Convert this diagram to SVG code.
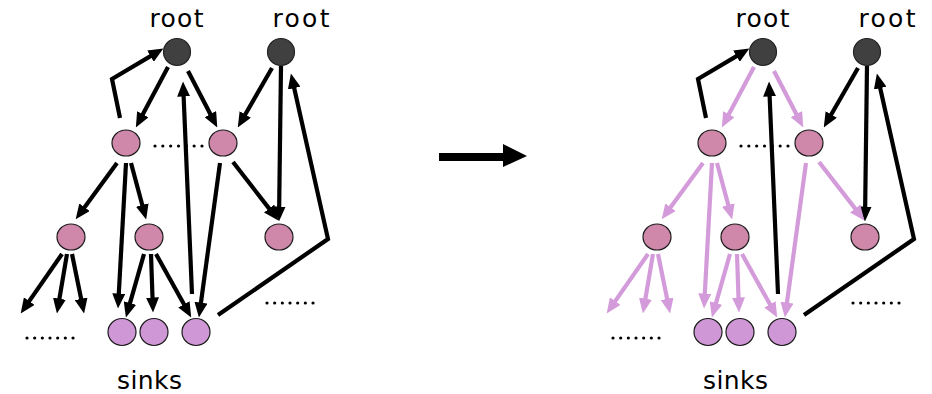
<svg xmlns="http://www.w3.org/2000/svg" width="932" height="394" viewBox="0 0 932 394">
  <style>
    .lbl { font-family: "DejaVu Sans", "Noto Sans", sans-serif; font-size: 25px; fill: #000; }
    .edge { fill: none; stroke: #000; stroke-width: 4.2; stroke-linejoin: miter; marker-end: url(#ah); }
    .edge.pk { stroke: #d49bdb; marker-end: url(#ahp); }
    .root { fill: #404040; stroke: #222; stroke-width: 1.2; }
    .mid { fill: #cf88aa; stroke: #1a1a1a; stroke-width: 1.2; }
    .sink { fill: #cf97d6; stroke: #1a1a1a; stroke-width: 1.2; }
    .dots { stroke: #000; stroke-width: 3.2; stroke-linecap: round; stroke-dasharray: 0 7.67; }
  </style>
  <defs>
    <marker id="ah" viewBox="0 0 15 13" markerUnits="userSpaceOnUse" markerWidth="15" markerHeight="13" refX="5.5" refY="6.5" orient="auto">
      <path d="M0,0 L15,6.5 L0,13 z" fill="#000"/>
    </marker>
    <marker id="ahp" viewBox="0 0 15 13" markerUnits="userSpaceOnUse" markerWidth="15" markerHeight="13" refX="5.5" refY="6.5" orient="auto">
      <path d="M0,0 L15,6.5 L0,13 z" fill="#d49bdb"/>
    </marker>
  </defs>

  <!-- left graph: before -->
  <g id="graph-before">
    <g id="edges-before">
      <polyline class="edge" points="120,118 112,79 155.2,53.4"/>
      <line class="edge" x1="168" y1="67" x2="140.3" y2="119.1"/>
      <line class="edge" x1="188" y1="71" x2="212.9" y2="119"/>
      <line class="edge" x1="272" y1="68" x2="242.5" y2="119.2"/>
      <line class="edge" x1="281" y1="66" x2="279.1" y2="212"/>
      <line class="edge" x1="192" y1="294" x2="183.4" y2="91"/>
      <polyline class="edge" points="218,315 328,239 293,82.8"/>
      <line class="edge" x1="117" y1="163" x2="81.3" y2="211.7"/>
      <line class="edge" x1="126" y1="163" x2="118.5" y2="299"/>
      <line class="edge" x1="131" y1="163" x2="143.7" y2="210.3"/>
      <line class="edge" x1="220" y1="163" x2="200.2" y2="308.1"/>
      <line class="edge" x1="233" y1="162" x2="272.5" y2="212.9"/>
      <line class="edge" x1="62" y1="254" x2="26.1" y2="305.6"/>
      <line class="edge" x1="67" y1="254" x2="58.5" y2="304.1"/>
      <line class="edge" x1="72" y1="254" x2="82.2" y2="304.2"/>
      <line class="edge" x1="144" y1="254" x2="128.5" y2="308.3"/>
      <line class="edge" x1="151" y1="254" x2="152.7" y2="303"/>
      <line class="edge" x1="156" y1="254" x2="186.6" y2="309.1"/>
    </g>
    <g id="b-root1"><circle class="root" cx="177" cy="52" r="13.5"/><text class="lbl" x="176.5" y="27" text-anchor="middle" textLength="54" lengthAdjust="spacing">root</text></g>
    <g id="b-root2"><circle class="root" cx="281" cy="52" r="13.5"/><text class="lbl" x="301" y="27" text-anchor="middle" textLength="57" lengthAdjust="spacing">root</text></g>
    <g id="b-a1"><ellipse class="mid" cx="126" cy="143" rx="14" ry="13"/></g>
    <g id="b-b1"><ellipse class="mid" cx="223" cy="143" rx="14" ry="13"/></g>
    <g id="b-a2"><ellipse class="mid" cx="71" cy="237" rx="14" ry="13"/></g>
    <g id="b-a3"><ellipse class="mid" cx="149" cy="237" rx="14" ry="13"/></g>
    <g id="b-c1"><ellipse class="mid" cx="279" cy="237" rx="14" ry="13"/></g>
    <g id="b-s1"><ellipse class="sink" cx="122" cy="332" rx="14" ry="13.5"/></g>
    <g id="b-s2"><ellipse class="sink" cx="154" cy="332" rx="14" ry="13.5"/></g>
    <g id="b-s3"><ellipse class="sink" cx="196" cy="332" rx="14" ry="13.5"/></g>
    <line class="dots" x1="155" y1="146" x2="202" y2="146" style="stroke-dasharray:0 7.83"/>
    <line class="dots" x1="27" y1="338" x2="73.2" y2="338"/>
    <line class="dots" x1="267" y1="303" x2="313.2" y2="303"/>
    <text class="lbl" x="149.5" y="389" text-anchor="middle" textLength="65" lengthAdjust="spacing">sinks</text>
  </g>

  <!-- transformation arrow -->
  <g id="transition">
    <path d="M439,153 L503,153 L503,144 L527,156 L503,167 L503,161 L439,161 z" fill="#000"/>
  </g>

  <!-- right graph: after -->
  <g id="graph-after" transform="translate(586,0)">
    <g id="edges-after">
      <polyline class="edge" points="120,118 112,79 155.2,53.4"/>
      <line class="edge pk" x1="168" y1="67" x2="140.3" y2="119.1"/>
      <line class="edge pk" x1="188" y1="71" x2="212.9" y2="119"/>
      <line class="edge" x1="272" y1="68" x2="242.5" y2="119.2"/>
      <line class="edge" x1="281" y1="66" x2="279.1" y2="212"/>
      <line class="edge" x1="192" y1="294" x2="183.4" y2="91"/>
      <polyline class="edge" points="218,315 328,239 293,82.8"/>
      <line class="edge pk" x1="117" y1="163" x2="81.3" y2="211.7"/>
      <line class="edge pk" x1="126" y1="163" x2="118.5" y2="299"/>
      <line class="edge pk" x1="131" y1="163" x2="143.7" y2="210.3"/>
      <line class="edge pk" x1="220" y1="163" x2="200.2" y2="308.1"/>
      <line class="edge pk" x1="233" y1="162" x2="272.5" y2="212.9"/>
      <line class="edge pk" x1="62" y1="254" x2="26.1" y2="305.6"/>
      <line class="edge pk" x1="67" y1="254" x2="58.5" y2="304.1"/>
      <line class="edge pk" x1="72" y1="254" x2="82.2" y2="304.2"/>
      <line class="edge pk" x1="144" y1="254" x2="128.5" y2="308.3"/>
      <line class="edge pk" x1="151" y1="254" x2="152.7" y2="303"/>
      <line class="edge pk" x1="156" y1="254" x2="186.6" y2="309.1"/>
    </g>
    <g id="a-root1"><circle class="root" cx="177" cy="52" r="13.5"/><text class="lbl" x="176.5" y="27" text-anchor="middle" textLength="54" lengthAdjust="spacing">root</text></g>
    <g id="a-root2"><circle class="root" cx="281" cy="52" r="13.5"/><text class="lbl" x="301" y="27" text-anchor="middle" textLength="57" lengthAdjust="spacing">root</text></g>
    <g id="a-a1"><ellipse class="mid" cx="126" cy="143" rx="14" ry="13"/></g>
    <g id="a-b1"><ellipse class="mid" cx="223" cy="143" rx="14" ry="13"/></g>
    <g id="a-a2"><ellipse class="mid" cx="71" cy="237" rx="14" ry="13"/></g>
    <g id="a-a3"><ellipse class="mid" cx="149" cy="237" rx="14" ry="13"/></g>
    <g id="a-c1"><ellipse class="mid" cx="279" cy="237" rx="14" ry="13"/></g>
    <g id="a-s1"><ellipse class="sink" cx="122" cy="332" rx="14" ry="13.5"/></g>
    <g id="a-s2"><ellipse class="sink" cx="154" cy="332" rx="14" ry="13.5"/></g>
    <g id="a-s3"><ellipse class="sink" cx="196" cy="332" rx="14" ry="13.5"/></g>
    <line class="dots" x1="155" y1="146" x2="202" y2="146" style="stroke-dasharray:0 7.83"/>
    <line class="dots" x1="27" y1="338" x2="73.2" y2="338"/>
    <line class="dots" x1="267" y1="303" x2="313.2" y2="303"/>
    <text class="lbl" x="149.5" y="389" text-anchor="middle" textLength="65" lengthAdjust="spacing">sinks</text>
  </g>
</svg>
